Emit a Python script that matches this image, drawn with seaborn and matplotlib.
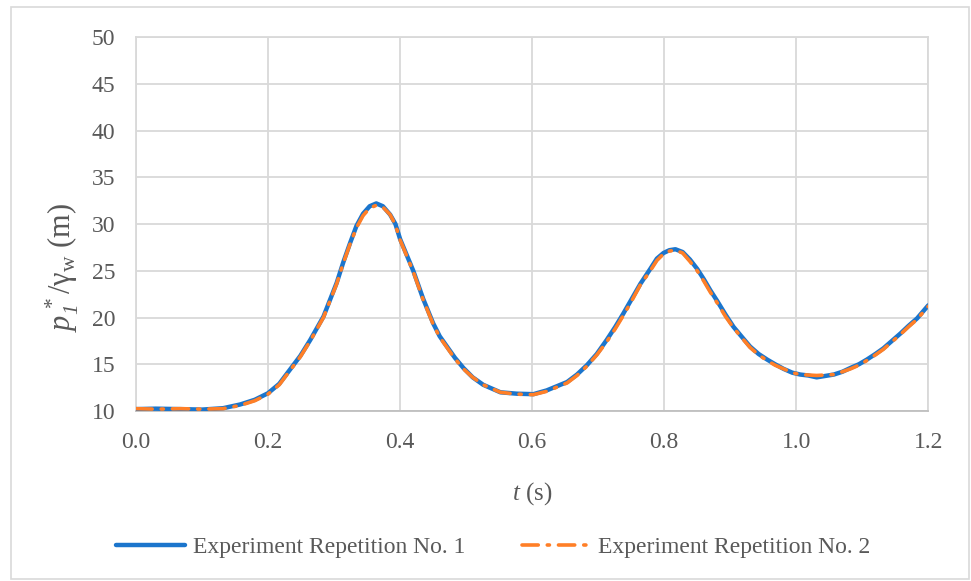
"""Pressure head time series, two experiment repetitions."""
import matplotlib

matplotlib.use("Agg")
import matplotlib.pyplot as plt  # noqa: E402
import pandas as pd  # noqa: E402
import seaborn as sns  # noqa: E402
from matplotlib.patches import Rectangle  # noqa: E402

# data
t_rep1 = [0.0, 0.03, 0.067, 0.1, 0.132, 0.158, 0.18, 0.2, 0.217, 0.233, 0.249,
          0.264, 0.284, 0.304, 0.314, 0.324, 0.334, 0.344, 0.354, 0.364, 0.374,
          0.385, 0.393, 0.4, 0.41, 0.42, 0.435, 0.45, 0.46, 0.471, 0.483, 0.496,
          0.51, 0.526, 0.552, 0.577, 0.602, 0.622, 0.653, 0.668, 0.683, 0.698,
          0.713, 0.726, 0.738, 0.751, 0.764, 0.779, 0.789, 0.799, 0.808, 0.817,
          0.828, 0.839, 0.85, 0.86, 0.87, 0.88, 0.893, 0.905, 0.918, 0.93, 0.943,
          0.956, 0.968, 0.981, 0.994, 1.006, 1.018, 1.031, 1.044, 1.057, 1.07,
          1.082, 1.095, 1.107, 1.12, 1.132, 1.145, 1.158, 1.17, 1.183, 1.2]
p_rep1 = [10.2, 10.25, 10.2, 10.15, 10.3, 10.7, 11.2, 11.9, 12.9, 14.4, 15.9,
          17.6, 20.1, 23.7, 25.9, 27.9, 29.8, 31.1, 31.9, 32.2, 31.9,
          31.0, 30.0, 28.4, 26.7, 25.0, 22.0, 19.4, 18.0, 16.9, 15.7, 14.6,
          13.6, 12.8, 12.0, 11.85, 11.8, 12.2, 13.1, 13.9, 14.9, 16.1,
          17.6, 19.0, 20.4, 22.0, 23.6, 25.2, 26.3, 26.9, 27.2, 27.3,
          27.0, 26.2, 25.2, 24.1, 22.9, 21.8, 20.3, 19.0, 17.9, 16.9, 16.1,
          15.5, 15.0, 14.5, 14.1, 13.9, 13.8, 13.6, 13.75, 13.9, 14.2,
          14.6, 15.0, 15.5, 16.1, 16.7, 17.5, 18.3, 19.1, 19.9, 21.3]

t_rep2 = t_rep1
p_rep2 = [10.25, 10.2, 10.25, 10.2, 10.25, 10.6, 11.1, 11.8, 12.8, 14.3, 15.8,
          17.5, 20.0, 23.6, 25.8, 27.8, 29.6, 30.9, 31.7, 32.0, 31.8,
          31.0, 29.9, 28.3, 26.6, 24.9, 21.9, 19.3, 17.9, 16.8, 15.6, 14.5,
          13.6, 12.8, 12.0, 11.8, 11.75, 12.1, 13.0, 13.8, 14.8, 16.0,
          17.4, 18.8, 20.2, 21.8, 23.5, 25.0, 26.1, 26.8, 27.1, 27.2,
          26.9, 26.0, 25.0, 23.9, 22.7, 21.6, 20.1, 18.9, 17.8, 16.8, 16.0,
          15.4, 14.9, 14.5, 14.1, 13.9, 13.85, 13.8, 13.85, 13.9, 14.2,
          14.5, 14.9, 15.4, 16.0, 16.6, 17.4, 18.2, 19.0, 19.8, 21.2]

labels = ["Experiment Repetition No. 1", "Experiment Repetition No. 2"]
x_ticks = [0.0, 0.2, 0.4, 0.6, 0.8, 1.0, 1.2]
y_ticks = [10, 15, 20, 25, 30, 35, 40, 45, 50]

sns.set_theme(style="white")
plt.rcParams["font.family"] = ["Liberation Serif", "DejaVu Serif"]
plt.rcParams["mathtext.fontset"] = "custom"
plt.rcParams["mathtext.rm"] = "Liberation Serif"
plt.rcParams["mathtext.it"] = "Liberation Serif:italic"
plt.rcParams["mathtext.sf"] = "Liberation Serif:italic"  # italic digit in subscript

text_col = "#595959"
grid_col = "#d9d9d9"

fig = plt.figure(figsize=(9.71, 5.81), dpi=100)
ax = fig.add_axes([0.140, 0.2926, 0.816, 0.6437])

df1 = pd.DataFrame({"t": t_rep1, "p": p_rep1})
df2 = pd.DataFrame({"t": t_rep2, "p": p_rep2})
sns.lineplot(data=df1, x="t", y="p", ax=ax, color="#1b75cc", lw=3.2,
             label=labels[0], zorder=3)
sns.lineplot(data=df2, x="t", y="p", ax=ax, color="#ff7f27", lw=2.6,
             label=labels[1], zorder=4)
for ln in ax.lines:
    ln.set_solid_joinstyle("round")
ax.lines[1].set_dashes([4.5, 2.5, 0.6, 2.5])
ax.lines[1].set_dash_capstyle("round")

ax.set_xlim(0, 1.2)
ax.set_ylim(10, 50)
ax.set_xticks(x_ticks)
ax.set_xticklabels([f"{v:.1f}" for v in x_ticks])
ax.set_yticks(y_ticks)
ax.tick_params(axis="both", length=0, labelsize=17, colors=text_col)
ax.tick_params(axis="x", pad=15)
ax.tick_params(axis="y", pad=15)
ax.grid(True, color=grid_col, lw=1.3)
for s in ax.spines.values():
    s.set_color(grid_col)
    s.set_linewidth(1.3)
ax.spines["bottom"].set_color("#bfbfbf")

ax.set_xlabel(r"$t$ (s)", fontsize=18, color=text_col)
ax.xaxis.set_label_coords(0.5, -0.222)
ax.xaxis.label.set_va("center")
ax.set_ylabel(r"$p_{\mathsf{1}}^{\,*}/\mathrm{\gamma}_{\mathrm{w}}$ (m)", fontsize=22,
              color=text_col)
ax.yaxis.set_label_coords(-0.093, 0.385)
ax.yaxis.label.set_va("center")

leg = ax.legend(loc="center", bbox_to_anchor=(0.508, 0.0585), bbox_transform=fig.transFigure,
                ncol=2, frameon=False, fontsize=17, handlelength=2.9,
                columnspacing=2.4, handletextpad=0.34)
for txt in leg.get_texts():
    txt.set_color(text_col)

fig.patches.append(Rectangle((11 / 971, 0.004), 958 / 971, 1 - 7 / 581 - 0.004,
                             transform=fig.transFigure, fill=False,
                             edgecolor=grid_col, lw=1.2))

fig.savefig("out.png", dpi=100)
plt.close(fig)
